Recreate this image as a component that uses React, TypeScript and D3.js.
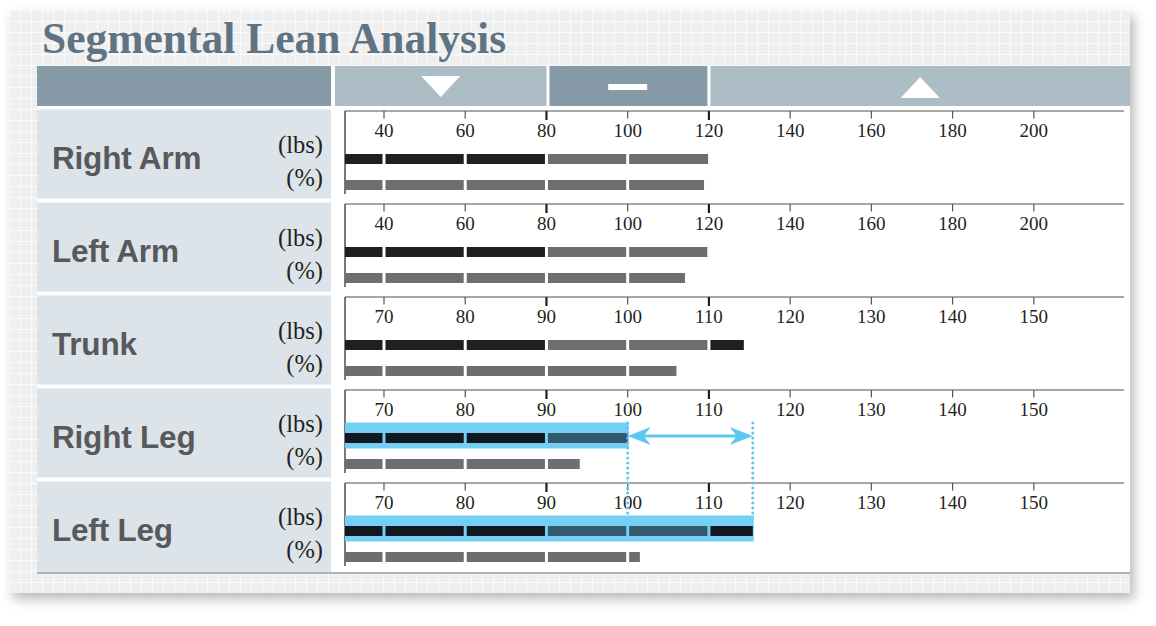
import React from "react";
import * as d3 from "d3";

const title = "Segmental Lean Analysis";
const segments = ["Right Arm", "Left Arm", "Trunk", "Right Leg", "Left Leg"];
const lbsValues = [119.8, 119.6, 114.3, 100.0, 115.4];
const pctValues = [118.8, 114.1, 106.0, 94.1, 101.5];
const armTicks = [40, 60, 80, 100, 120, 140, 160, 180, 200];
const bodyTicks = [70, 80, 90, 100, 110, 120, 130, 140, 150];
const armDomain = [30.4, 222.2];
const bodyDomain = [65.2, 161.1];
const armNormal = [80, 120];
const bodyNormal = [90, 110];
const highlighted = [false, false, false, true, true];
const unitLabels = ["(lbs)", "(%)"];

const W = 1156;
const H = 626;
const panel = { x: 9, y: 10, w: 1121, h: 583 };
const tableLeft = 37;
const labelRight = 331;
const chartRight = 1130;
const headerY = 66;
const headerH = 40;
const rowTop0 = 111;
const rowStep = 93;
const axisX0 = 345;
const axisX1 = 1124;

const C = {
  headerDark: "#869ba7",
  headerLight: "#acbdc6",
  band: "#dce3e9",
  label: "#58595b",
  black: "#231f20",
  grey: "#6d6e71",
  hiBlack: "#111820",
  hiGrey: "#325a6c",
  cyan: "#74cff5",
  cyanLine: "#5fc6f1",
  title: "#5f7383",
};

function rowConfig(i: number) {
  const isArm = i < 2;
  return {
    ticks: isArm ? armTicks : bodyTicks,
    domain: isArm ? armDomain : bodyDomain,
    normal: isArm ? armNormal : bodyNormal,
  };
}

function barSegments(x: d3.ScaleLinear<number, number>, ticks: number[], d0: number, value: number) {
  const breaks = ticks.filter((t) => t > d0 && t < value);
  const bounds = [d0, ...breaks, value];
  const segs: { x0: number; x1: number; mid: number }[] = [];
  for (let k = 0; k < bounds.length - 1; k++) {
    const a = bounds[k];
    const b = bounds[k + 1];
    const x0 = k === 0 ? x(a) : x(a) + 1.5;
    const x1 = k === bounds.length - 2 ? x(b) : x(b) - 1.5;
    segs.push({ x0, x1, mid: (a + b) / 2 });
  }
  return segs;
}

export default function App() {
  const armScale = d3.scaleLinear().domain(armDomain).range([axisX0, axisX1]);
  const xa = armScale(armNormal[0]);
  const xb = armScale(armNormal[1]);
  const xm = armScale(100);
  const light1Mid = (labelRight + 4 + xa) / 2;
  const light2Mid = (xb + 1.5 + chartRight) / 2;

  const rows = segments.map((name, i) => {
    const cfg = rowConfig(i);
    const x = d3.scaleLinear().domain(cfg.domain).range([axisX0, axisX1]);
    return { name, i, cfg, x, top: rowTop0 + rowStep * i };
  });

  const hiRows = rows.filter((r) => highlighted[r.i]);
  const rA = hiRows[0];
  const rB = hiRows[1];
  const ax0 = rA.x(lbsValues[rA.i]);
  const ax1 = rB.x(lbsValues[rB.i]);
  const ay = rA.top + 46;

  return (
    <svg
      width={W}
      height={H}
      style={{ position: "absolute", left: 0, top: 0, display: "block" }}
    >
      <defs>
        <pattern id="grid" x={panel.x} y={panel.y} width={11} height={11} patternUnits="userSpaceOnUse">
          <rect width={11} height={11} fill="#efefef" />
          <line x1={0} y1={0.5} x2={11} y2={0.5} stroke="#fbfbfb" strokeWidth={1} />
          <line x1={0.5} y1={0} x2={0.5} y2={11} stroke="#fbfbfb" strokeWidth={1} />
        </pattern>
        <filter id="shadow" x="-5%" y="-5%" width="112%" height="115%">
          <feDropShadow dx={4} dy={6} stdDeviation={6} floodColor="#000" floodOpacity={0.28} />
        </filter>
      </defs>
      <rect width={W} height={H} fill="#fff" />
      <rect x={panel.x} y={panel.y} width={panel.w} height={panel.h} fill="#efefef" filter="url(#shadow)" />
      <rect x={panel.x} y={panel.y} width={panel.w} height={panel.h} fill="url(#grid)" />

      <text
        x={42}
        y={53}
        fontFamily="'Liberation Serif', 'Times New Roman', serif"
        fontWeight="bold"
        fontSize={43.5}
        fill={C.title}
      >
        {title}
      </text>

      {/* header */}
      <rect x={tableLeft} y={headerY} width={chartRight - tableLeft} height={573 - headerY} fill="#fff" />
      <rect x={tableLeft} y={headerY} width={labelRight - tableLeft} height={headerH} fill={C.headerDark} />
      <rect x={labelRight + 4} y={headerY} width={xa - labelRight - 4} height={headerH} fill={C.headerLight} />
      <rect x={xa + 3} y={headerY} width={xb - 1.5 - xa - 3} height={headerH} fill={C.headerDark} />
      <rect x={xb + 1.5} y={headerY} width={chartRight - xb - 1.5} height={headerH} fill={C.headerLight} />
      <path
        d={`M${light1Mid - 19.5},${headerY + 10} L${light1Mid + 19.5},${headerY + 10} L${light1Mid},${headerY + 31} Z`}
        fill="#fff"
      />
      <rect x={xm - 19.5} y={headerY + 18} width={39} height={6} fill="#fff" />
      <path
        d={`M${light2Mid - 19.5},${headerY + 32} L${light2Mid + 19.5},${headerY + 32} L${light2Mid},${headerY + 11} Z`}
        fill="#fff"
      />

      {rows.map((r) => {
        const { i, cfg, x, top } = r;
        const isHi = highlighted[i];
        const lbsSegs = barSegments(x, cfg.ticks, cfg.domain[0], lbsValues[i]);
        const pctSegs = barSegments(x, cfg.ticks, cfg.domain[0], pctValues[i]);
        const bandH = i === segments.length - 1 ? 90.5 : 89;
        return (
          <g key={r.name}>
            <rect x={tableLeft} y={top - 1.5} width={labelRight - tableLeft} height={bandH} fill={C.band} />
            <text
              x={52}
              y={top + 58}
              fontFamily="'Liberation Sans', Arial, sans-serif"
              fontWeight="bold"
              fontSize={31.5}
              letterSpacing={-0.2}
              fill={C.label}
            >
              {r.name}
            </text>
            {unitLabels.map((u, k) => (
              <text
                key={u}
                x={323}
                y={top + 42 + k * 33}
                textAnchor="end"
                fontFamily="'Liberation Serif', 'Times New Roman', serif"
                fontSize={24.5}
                fill={C.black}
              >
                {u}
              </text>
            ))}
            <line x1={axisX0} y1={top} x2={axisX1} y2={top} stroke="#8a8a8a" strokeWidth={1.3} />
            <line x1={axisX0} y1={top} x2={axisX0} y2={top + 83} stroke={C.black} strokeWidth={1.2} />
            {cfg.ticks.map((t) => {
              const bold = cfg.normal.includes(t);
              return (
                <g key={t}>
                  <line
                    x1={x(t)}
                    y1={top}
                    x2={x(t)}
                    y2={top + (bold ? 9 : 7.5)}
                    stroke={bold ? C.black : "#555"}
                    strokeWidth={bold ? 2.2 : 1.2}
                  />
                  <text
                    x={x(t)}
                    y={top + 26}
                    textAnchor="middle"
                    fontFamily="'Liberation Serif', 'Times New Roman', serif"
                    fontSize={19}
                    fill={C.black}
                  >
                    {t}
                  </text>
                </g>
              );
            })}
            {isHi && (
              <rect
                x={x(cfg.domain[0])}
                y={top + 32.5}
                width={x(lbsValues[i]) - x(cfg.domain[0]) + 1}
                height={26}
                fill={C.cyan}
              />
            )}
            {lbsSegs.map((s, k) => {
              const inNormal = s.mid >= cfg.normal[0] && s.mid <= cfg.normal[1];
              const fill = isHi ? (inNormal ? C.hiGrey : C.hiBlack) : inNormal ? C.grey : C.black;
              return <rect key={k} x={s.x0} y={top + 43} width={Math.max(0, s.x1 - s.x0)} height={10} fill={fill} />;
            })}
            {pctSegs.map((s, k) => (
              <rect key={k} x={s.x0} y={top + 69} width={Math.max(0, s.x1 - s.x0)} height={10} fill={C.grey} />
            ))}
          </g>
        );
      })}

      <line x1={tableLeft} y1={573} x2={chartRight} y2={573} stroke="#9a9a9a" strokeWidth={1.5} />

      {[ax0, ax1].map((xx, k) => (
        <line
          key={k}
          x1={xx}
          y1={rA.top + 33}
          x2={xx}
          y2={rB.top + 33}
          stroke={C.cyanLine}
          strokeWidth={3}
          strokeDasharray="0 5"
          strokeLinecap="round"
        />
      ))}
      <line x1={ax0 + 10} y1={ay} x2={ax1 - 10} y2={ay} stroke={C.cyanLine} strokeWidth={3} />
      <path
        d={`M${ax0},${ay} L${ax0 + 23},${ay - 9} L${ax0 + 16},${ay} L${ax0 + 23},${ay + 9} Z`}
        fill={C.cyanLine}
      />
      <path
        d={`M${ax1},${ay} L${ax1 - 23},${ay - 9} L${ax1 - 16},${ay} L${ax1 - 23},${ay + 9} Z`}
        fill={C.cyanLine}
      />
    </svg>
  );
}
